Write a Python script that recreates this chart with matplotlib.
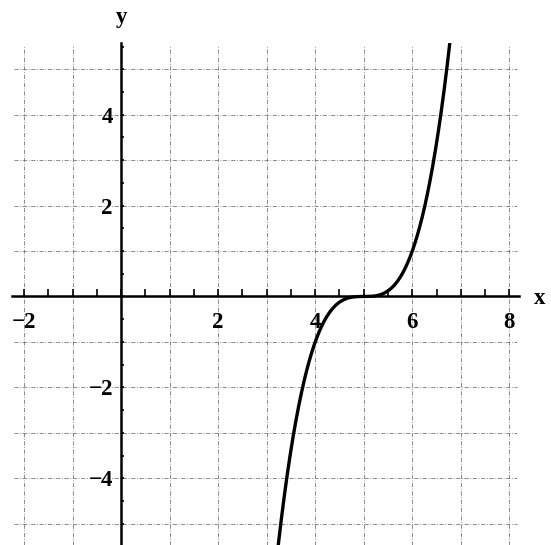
import numpy as np
import matplotlib.pyplot as plt
from matplotlib.ticker import MultipleLocator, FixedLocator

# cubic y = (x - h)^3, shifted right by h
h = 5.0
power = 3
x_range = (-2.25, 8.2)
y_range = (-5.47, 5.58)
x_labels = [-2, 2, 4, 6, 8]
y_labels = [-4, -2, 2, 4]
grid_x = [-2, -1, 1, 2, 3, 4, 5, 6, 7, 8]
grid_y = [-5, -4, -3, -2, -1, 1, 2, 3, 4, 5]

xs = np.linspace(2.5, 7.5, 600)
ys = (xs - h) ** power

fig = plt.figure(figsize=(5.51, 5.45), dpi=100)
ax = fig.add_axes([12 / 551, 0.0, (519 - 12) / 551, (545 - 43) / 545])
ax.set_xlim(*x_range)
ax.set_ylim(*y_range)

font = dict(family="Liberation Serif", size=16.5, weight="bold")

# dash-dot grid
grid_style = dict(color="#777777", lw=0.6, ls=(0, (5, 2, 1, 2)), zorder=1)
for gx in grid_x:
    ax.plot([gx, gx], [y_range[0], y_range[1] - 0.05], **grid_style)
for gy in grid_y:
    ax.plot([x_range[0] + 0.05, x_range[1] - 0.05], [gy, gy], **grid_style)

ax.plot(xs, ys, color="black", lw=2.4, zorder=3, solid_capstyle="butt")

for side in ("top", "right"):
    ax.spines[side].set_visible(False)
ax.spines["left"].set_position(("data", 0))
ax.spines["bottom"].set_position(("data", 0))
ax.spines["left"].set_linewidth(1.8)
ax.spines["bottom"].set_linewidth(1.8)

ax.xaxis.set_major_locator(FixedLocator(x_labels))
ax.yaxis.set_major_locator(FixedLocator(y_labels))
ax.xaxis.set_minor_locator(MultipleLocator(0.5))
ax.yaxis.set_minor_locator(MultipleLocator(0.5))
ax.tick_params(axis="x", which="both", direction="in", length=5, width=1.2, pad=11)
ax.tick_params(axis="y", which="both", direction="in", length=2.5, width=1.2, pad=6)
ax.set_xticklabels(["\u22122" if v < 0 else str(v) for v in x_labels], **font)
ax.set_yticklabels(["\u2212" + str(-v) if v < 0 else str(v) for v in y_labels], **font)
ax.patch.set_visible(False)

fig.text(540 / 551, 1 - 298 / 545, "x", ha="center", va="center", **font)
fig.text(122 / 551, 1 - 18 / 545, "y", ha="center", va="center", **font)

fig.savefig("out.png", dpi=100)
